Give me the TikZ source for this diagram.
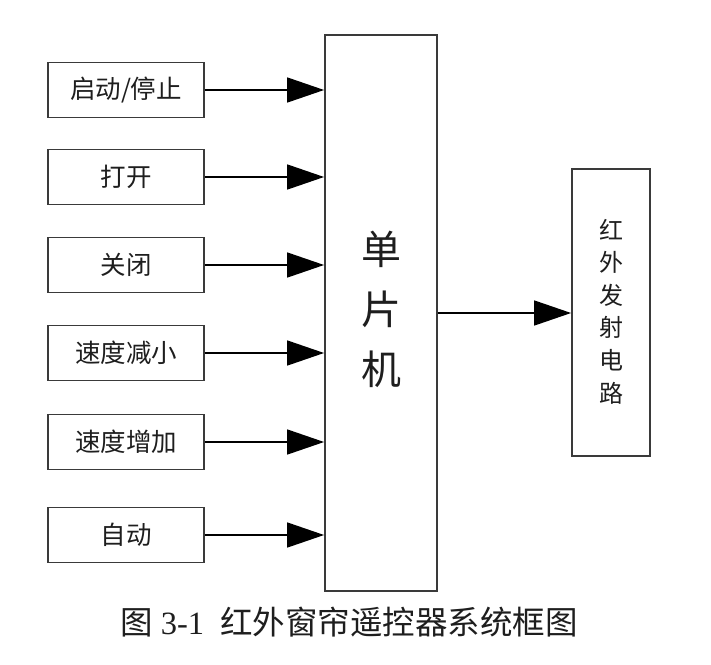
\documentclass[tikz,border=0pt]{standalone}
\usepackage{fontspec}
\setmainfont{Liberation Serif}
\newfontfamily\cjk{Noto Sans CJK SC}
\usetikzlibrary{arrows.meta}
\definecolor{boxline}{HTML}{3A3A3A}
\definecolor{txt}{HTML}{1E1E1E}
\tikzset{
  inbox/.style={draw=boxline, line width=1.8pt, minimum width=156pt, minimum height=55pt, inner sep=0pt, text=txt, font=\cjk\fontsize{25.5}{25.5}\selectfont},
  bigbox/.style={draw=boxline, line width=1.8pt, inner sep=0pt, text=txt},
  conn/.style={line width=1.5pt, -{Triangle[length=37pt,width=25pt]}}
}
\begin{document}
\begin{tikzpicture}[x=1pt,y=-1pt]
\useasboundingbox[fill=white] (0,0) rectangle (711,664);
\node[inbox] (b1) at (126,90) {启动/停止};
\node[inbox] (b2) at (126,177) {打开};
\node[inbox] (b3) at (126,265) {关闭};
\node[inbox] (b4) at (126,353) {速度减小};
\node[inbox] (b5) at (126,442) {速度增加};
\node[inbox] (b6) at (126,535) {自动};
\node[bigbox, minimum width=112pt, minimum height=556pt] (mcu) at (381,313) {};
\node[text=txt, font=\cjk\fontsize{40}{60}\selectfont, align=center] (mcut) at (381,309) {单\\片\\机};
\node[bigbox, minimum width=78pt, minimum height=287pt] (ir) at (611,312.5) {};
\node[text=txt, font=\cjk\fontsize{24}{32.6}\selectfont, align=center] (irt) at (611,311.5) {红\\外\\发\\射\\电\\路};
\foreach \i in {1,...,6} {
  \draw[conn] (b\i.east) -- (b\i.east -| mcu.west);
}
\draw[conn] (mcu.east |- 0,313) -- (ir.west |- 0,313);
\node[text=txt, font=\fontsize{32.5}{32.5}\selectfont] (cap) at (349,622) {{\cjk 图}~3-1~~{\cjk 红外窗帘遥控器系统框图}};
\end{tikzpicture}
\end{document}
